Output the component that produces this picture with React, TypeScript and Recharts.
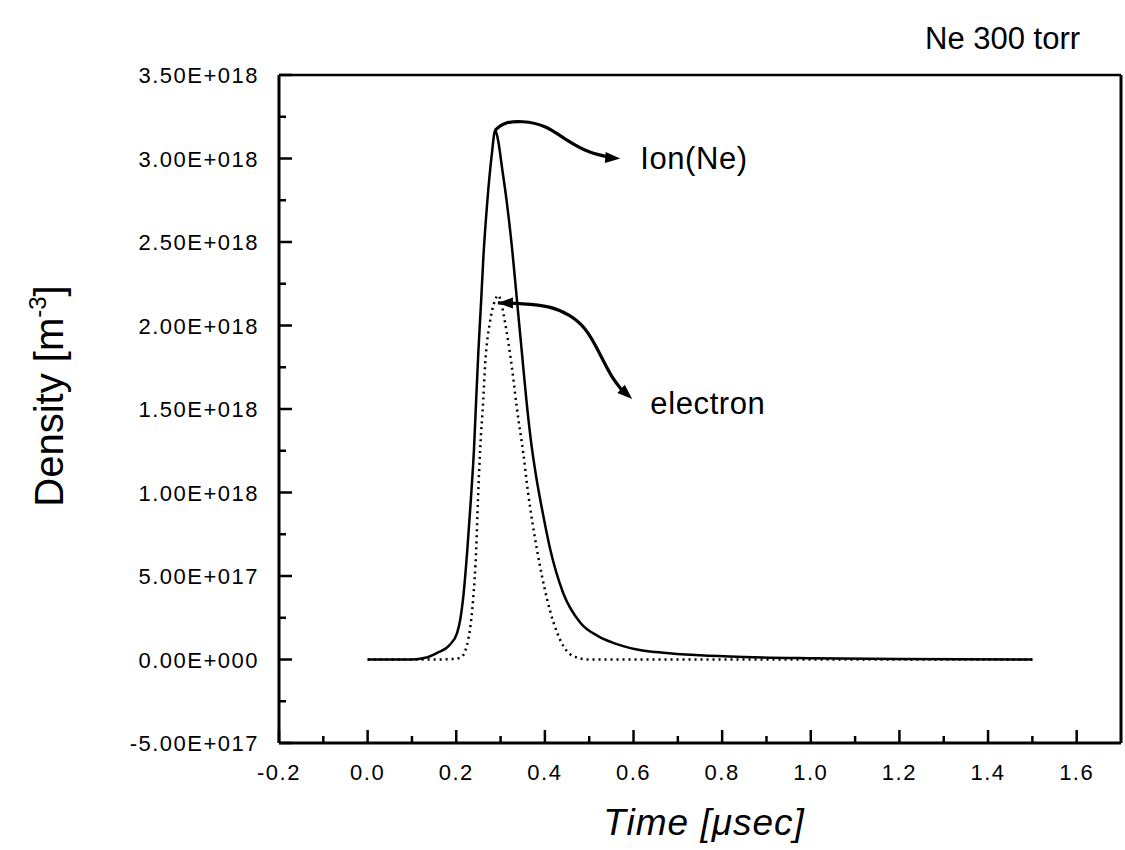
import { LineChart, Line, XAxis, YAxis, ReferenceLine, ReferenceDot } from "recharts";

const FONT = '"Liberation Sans", Arial, Helvetica, sans-serif';

// time in µsec, density in units of 1E+018 m^-3
const ION_TIME = [
  0.0, 0.05, 0.10, 0.13, 0.157, 0.186, 0.202, 0.209, 0.216, 0.225, 0.233, 0.240,
  0.245, 0.250, 0.256, 0.261, 0.270, 0.280, 0.288, 0.295, 0.303, 0.313, 0.326,
  0.337, 0.348, 0.358, 0.368, 0.380, 0.395, 0.412, 0.441, 0.480, 0.520, 0.554,
  0.608, 0.667, 0.75, 0.85, 1.0, 1.2, 1.5,
];
const ION_DENSITY = [
  0, 0, 0, 0.01, 0.04, 0.09, 0.16, 0.24, 0.38, 0.66, 0.96, 1.26,
  1.56, 1.85, 2.14, 2.40, 2.74, 3.02, 3.17, 3.10, 2.95, 2.76, 2.46,
  2.15, 1.84, 1.56, 1.32, 1.10, 0.88, 0.66, 0.40, 0.22, 0.14, 0.10,
  0.06, 0.04, 0.025, 0.015, 0.008, 0.003, 0,
];

const ELECTRON_TIME = [
  0.0, 0.10, 0.15, 0.19, 0.209, 0.220, 0.227, 0.231, 0.238, 0.245, 0.249, 0.254,
  0.261, 0.265, 0.276, 0.286, 0.295, 0.302, 0.310, 0.326, 0.337, 0.351, 0.362,
  0.382, 0.405, 0.434, 0.464, 0.50, 0.60, 0.80, 1.0, 1.2, 1.5,
];
const ELECTRON_DENSITY = [
  0, 0, 0, 0.003, 0.01, 0.05, 0.12, 0.18, 0.36, 0.66, 0.96, 1.26,
  1.56, 1.76, 2.02, 2.14, 2.18, 2.13, 2.02, 1.74, 1.50, 1.24, 1.00,
  0.66, 0.36, 0.12, 0.02, 0, 0, 0, 0, 0, 0,
];

// annotation arrows (drawn in data space)
const ION_ARROW_TIME = [0.288, 0.31, 0.35, 0.40, 0.45, 0.50, 0.55];
const ION_ARROW_DENSITY = [3.17, 3.21, 3.22, 3.19, 3.11, 3.04, 3.005];
const ELECTRON_ARROW_TIME = [0.294, 0.35, 0.41, 0.455, 0.49, 0.52, 0.55, 0.578];
const ELECTRON_ARROW_DENSITY = [2.135, 2.13, 2.11, 2.06, 1.98, 1.85, 1.70, 1.60];

const X_TICKS = [-0.2, -0.1, 0, 0.1, 0.2, 0.3, 0.4, 0.5, 0.6, 0.7, 0.8, 0.9, 1.0, 1.1, 1.2, 1.3, 1.4, 1.5, 1.6];
const X_TICK_LABELS = ["-0.2", "", "0.0", "", "0.2", "", "0.4", "", "0.6", "", "0.8", "", "1.0", "", "1.2", "", "1.4", "", "1.6"];
const Y_TICKS = [-0.5, -0.25, 0, 0.25, 0.5, 0.75, 1.0, 1.25, 1.5, 1.75, 2.0, 2.25, 2.5, 2.75, 3.0, 3.25, 3.5];
const Y_TICK_LABELS = [
  "-5.00E+017", "", "0.00E+000", "", "5.00E+017", "", "1.00E+018", "", "1.50E+018",
  "", "2.00E+018", "", "2.50E+018", "", "3.00E+018", "", "3.50E+018",
];

const toPoints = (ts: number[], ds: number[]) => ts.map((t, i) => ({ t, d: ds[i] }));

function findLabel(ticks: number[], labels: string[], v: number) {
  const i = ticks.findIndex((t) => Math.abs(t - v) < 1e-6);
  return i < 0 ? "" : labels[i];
}

function XTick(props: any) {
  const { x, y, payload } = props;
  const label = findLabel(X_TICKS, X_TICK_LABELS, payload.value);
  const len = label ? 13 : 7;
  return (
    <g>
      <line x1={x} x2={x} y1={y} y2={y - len} stroke="#000" strokeWidth={2.5} />
      {label && (
        <text x={x} y={y + 37} textAnchor="middle" fontFamily={FONT} fontSize={22} letterSpacing={1.5} fill="#000">
          {label}
        </text>
      )}
    </g>
  );
}

function YTick(props: any) {
  const { x, y, payload } = props;
  const label = findLabel(Y_TICKS, Y_TICK_LABELS, payload.value);
  const len = label ? 13 : 7;
  return (
    <g>
      <line x1={x} x2={x + len} y1={y} y2={y} stroke="#000" strokeWidth={2.5} />
      {label && (
        <text x={x - 20} y={y + 8} textAnchor="end" fontFamily={FONT} fontSize={22} letterSpacing={1.5} fill="#000">
          {label}
        </text>
      )}
    </g>
  );
}

const arrowHead = (angle: number) => (p: any) => (
  <polygon
    transform={`translate(${p.cx},${p.cy}) rotate(${angle})`}
    points="0,0 -15,-5.5 -15,5.5"
    fill="#000"
  />
);

const textMark = (text: string) => (p: any) => (
  <text x={p.cx} y={p.cy} fontFamily={FONT} fontSize={31} letterSpacing={0.6} fill="#000">
    {text}
  </text>
);

export default function App() {
  const ionData = toPoints(ION_TIME, ION_DENSITY);
  const electronData = toPoints(ELECTRON_TIME, ELECTRON_DENSITY);
  const ionArrow = toPoints(ION_ARROW_TIME, ION_ARROW_DENSITY);
  const electronArrow = toPoints(ELECTRON_ARROW_TIME, ELECTRON_ARROW_DENSITY);

  return (
    <div style={{ position: "absolute", left: 0, top: 0, width: 1125, height: 850, background: "#fff" }}>
      <LineChart width={1125} height={850} margin={{ top: 75, right: 4, bottom: 0, left: 0 }}>
        <XAxis
          dataKey="t"
          type="number"
          domain={[-0.2, 1.7]}
          ticks={X_TICKS}
          interval={0}
          height={107}
          tickSize={0}
          tickMargin={0}
          tickLine={false}
          tick={<XTick />}
          axisLine={{ stroke: "#000", strokeWidth: 3 }}
          allowDataOverflow
        />
        <YAxis
          type="number"
          domain={[-0.5, 3.5]}
          ticks={Y_TICKS}
          interval={0}
          width={279}
          tickSize={0}
          tickMargin={0}
          tickLine={false}
          tick={<YTick />}
          axisLine={{ stroke: "#000", strokeWidth: 3 }}
          allowDataOverflow
        />
        <ReferenceLine y={3.5} stroke="#000" strokeWidth={2.5} />
        <ReferenceLine x={1.7} stroke="#000" strokeWidth={3} />

        <Line
          data={electronData}
          dataKey="d"
          type="monotone"
          stroke="#000"
          strokeWidth={2.5}
          strokeDasharray="2 4"
          dot={false}
          isAnimationActive={false}
        />
        <Line
          data={ionData}
          dataKey="d"
          type="monotone"
          stroke="#000"
          strokeWidth={2.5}
          dot={false}
          isAnimationActive={false}
        />
        <Line
          data={ionArrow}
          dataKey="d"
          type="natural"
          stroke="#000"
          strokeWidth={3.2}
          dot={false}
          isAnimationActive={false}
        />
        <Line
          data={electronArrow}
          dataKey="d"
          type="natural"
          stroke="#000"
          strokeWidth={3.2}
          dot={false}
          isAnimationActive={false}
        />
        <ReferenceDot x={0.57} y={3.0} shape={arrowHead(4)} />
        <ReferenceDot x={0.597} y={1.56} shape={arrowHead(42)} />
        <ReferenceDot x={0.294} y={2.135} shape={arrowHead(180)} />
        <ReferenceDot x={0.615} y={2.94} shape={textMark("Ion(Ne)")} />
        <ReferenceDot x={0.638} y={1.47} shape={textMark("electron")} />
      </LineChart>

      <svg width={1125} height={850} style={{ position: "absolute", left: 0, top: 0, pointerEvents: "none" }}>
        <text x={925} y={49} fontFamily={FONT} fontSize={31} fill="#000">
          Ne 300 torr
        </text>
        <text
          transform="translate(63,396) rotate(-90)"
          textAnchor="middle"
          fontFamily={FONT}
          fontSize={40}
          fill="#000"
        >
          Density [m
          <tspan dy={-17} fontSize={24}>-3</tspan>
          <tspan dy={17}>]</tspan>
        </text>
        <text
          x={704}
          y={835}
          textAnchor="middle"
          fontFamily={FONT}
          fontSize={37}
          fontStyle="italic"
          letterSpacing={1}
          fill="#000"
        >
          Time [μsec]
        </text>
      </svg>
    </div>
  );
}
